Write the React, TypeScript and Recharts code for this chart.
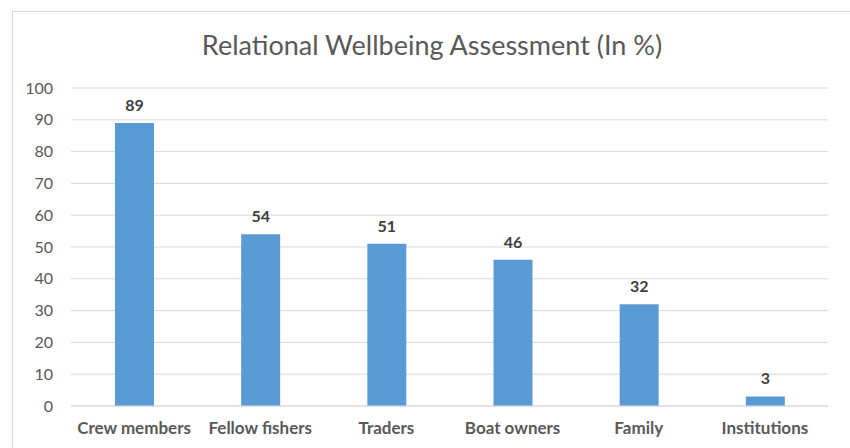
import { BarChart, Bar, XAxis, YAxis, CartesianGrid, LabelList } from 'recharts'

const categories = ['Crew members', 'Fellow fishers', 'Traders', 'Boat owners', 'Family', 'Institutions']
const values = [89, 54, 51, 46, 32, 3]
const yTicks = [0, 10, 20, 30, 40, 50, 60, 70, 80, 90, 100]

const data = categories.map((name, i) => ({ name, value: values[i] }))

const font = 'Lato, "Open Sans", sans-serif'

export default function App() {
  return (
    <div style={{ position: 'absolute', left: 0, top: 0, width: 850, height: 448, overflow: 'hidden', background: '#fff', fontFamily: font }}>
      <div style={{ position: 'absolute', left: 12, top: 11, width: 900, height: 500, border: '1px solid #d9d9d9' }} />
      <div style={{ position: 'absolute', left: 0, top: 28, width: 864, textAlign: 'center', fontSize: 27, color: '#595959' }}>
        Relational Wellbeing Assessment (In %)
      </div>
      <div style={{ position: 'absolute', left: 0, top: 0 }}>
        <BarChart width={850} height={448} data={data} margin={{ top: 88, right: 22, bottom: 12, left: 21 }}>
          <CartesianGrid vertical={false} stroke="#d9d9d9" />
          <XAxis
            dataKey="name"
            height={30}
            axisLine={{ stroke: '#d9d9d9' }}
            tickLine={false}
            tickMargin={10}
            tick={{ fill: '#595959', fontSize: 17, fontWeight: 700, fontFamily: font }}
            interval={0}
          />
          <YAxis
            width={50}
            domain={[0, 100]}
            ticks={yTicks}
            axisLine={false}
            tickLine={false}
            tickSize={6}
            tickMargin={12}
            tick={{ fill: '#595959', fontSize: 16, fontFamily: font }}
          />
          <Bar dataKey="value" fill="#5b9bd5" barSize={39} isAnimationActive={false}>
            <LabelList dataKey="value" position="top" offset={12} fill="#404040" fontSize={16} fontWeight={700} fontFamily={font} />
          </Bar>
        </BarChart>
      </div>
    </div>
  )
}
